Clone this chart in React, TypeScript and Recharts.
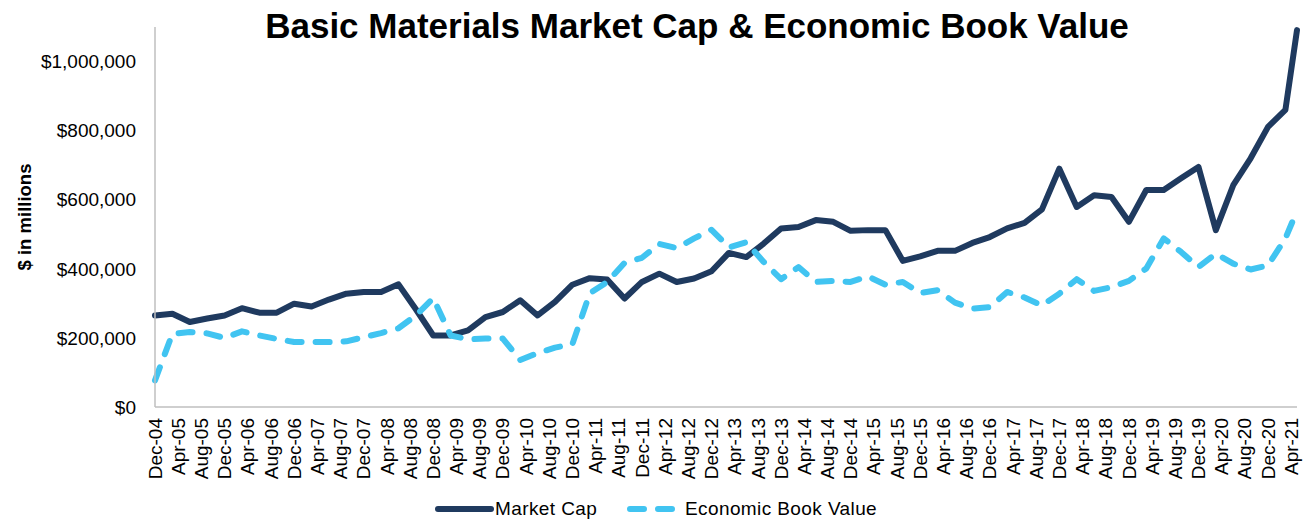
import React from "react";
import { LineChart, Line, XAxis, YAxis } from "recharts";

const FONT = '"Liberation Sans", Arial, sans-serif';
const NAVY = "#1F3A5F";
const SKY = "#41C4F1";

// quarter-end dates of each point (last point is the latest reading)
const pointDates = [
  "Dec-04",
  "Mar-05", "Jun-05", "Sep-05", "Dec-05",
  "Mar-06", "Jun-06", "Sep-06", "Dec-06",
  "Mar-07", "Jun-07", "Sep-07", "Dec-07",
  "Mar-08", "Jun-08", "Sep-08", "Dec-08",
  "Mar-09", "Jun-09", "Sep-09", "Dec-09",
  "Mar-10", "Jun-10", "Sep-10", "Dec-10",
  "Mar-11", "Jun-11", "Sep-11", "Dec-11",
  "Mar-12", "Jun-12", "Sep-12", "Dec-12",
  "Mar-13", "Jun-13", "Sep-13", "Dec-13",
  "Mar-14", "Jun-14", "Sep-14", "Dec-14",
  "Mar-15", "Jun-15", "Sep-15", "Dec-15",
  "Mar-16", "Jun-16", "Sep-16", "Dec-16",
  "Mar-17", "Jun-17", "Sep-17", "Dec-17",
  "Mar-18", "Jun-18", "Sep-18", "Dec-18",
  "Mar-19", "Jun-19", "Sep-19", "Dec-19",
  "Mar-20", "Jun-20", "Sep-20", "Dec-20",
  "Mar-21", "May-21",
];

// $ millions
const marketCap = [
  265000,
  270000, 246000, 256000, 265000,
  286000, 273000, 273000, 299000,
  291000, 311000, 328000, 333000,
  333000, 355000, 283000, 207000,
  207000, 222000, 260000, 275000,
  309000, 265000, 304000, 354000,
  373000, 369000, 314000, 362000,
  386000, 362000, 372000, 393000,
  446000, 434000, 473000, 517000,
  521000, 541000, 536000, 510000,
  512000, 512000, 423000, 436000,
  452000, 452000, 475000, 492000,
  517000, 533000, 572000, 690000,
  579000, 613000, 608000, 536000,
  628000, 628000, 662000, 695000,
  512000, 642000, 720000, 811000,
  860000, 1091000,
];

const economicBookValue = [
  77000,
  212000, 217000, 213000, 200000,
  219000, 207000, 197000, 188000,
  188000, 188000, 190000, 202000,
  214000, 228000, 265000, 315000,
  207000, 196000, 198000, 198000,
  136000, 156000, 172000, 182000,
  329000, 362000, 417000, 432000,
  472000, 460000, 488000, 513000,
  462000, 477000, 420000, 370000,
  405000, 362000, 365000, 362000,
  378000, 354000, 362000, 330000,
  338000, 302000, 285000, 289000,
  333000, 317000, 294000, 328000,
  370000, 336000, 347000, 365000,
  401000, 488000, 449000, 405000,
  444000, 415000, 398000, 410000,
  488000, 568000,
];

const tickLabels = [
  "Dec-04", "Apr-05", "Aug-05", "Dec-05", "Apr-06", "Aug-06", "Dec-06",
  "Apr-07", "Aug-07", "Dec-07", "Apr-08", "Aug-08", "Dec-08", "Apr-09",
  "Aug-09", "Dec-09", "Apr-10", "Aug-10", "Dec-10", "Apr-11", "Aug-11",
  "Dec-11", "Apr-12", "Aug-12", "Dec-12", "Apr-13", "Aug-13", "Dec-13",
  "Apr-14", "Aug-14", "Dec-14", "Apr-15", "Aug-15", "Dec-15", "Apr-16",
  "Aug-16", "Dec-16", "Apr-17", "Aug-17", "Dec-17", "Apr-18", "Aug-18",
  "Dec-18", "Apr-19", "Aug-19", "Dec-19", "Apr-20", "Aug-20", "Dec-20",
  "Apr-21",
];

const yTicks = [0, 200000, 400000, 600000, 800000, 1000000];

const MONTHS = ["Jan", "Feb", "Mar", "Apr", "May", "Jun", "Jul", "Aug", "Sep", "Oct", "Nov", "Dec"];

// months since Dec-04
function monthIndex(label: string) {
  const [mon, yy] = label.split("-");
  return (2000 + Number(yy) - 2004) * 12 + MONTHS.indexOf(mon) - 11;
}

const tickMonths = tickLabels.map(monthIndex);
const labelByMonth: Record<number, string> = {};
tickLabels.forEach((l) => (labelByMonth[monthIndex(l)] = l));

const XTick = ({ x, y, payload }: any) => (
  <text
    x={x}
    y={y}
    dy="0.35em"
    transform={`rotate(-90 ${x} ${y})`}
    textAnchor="end"
    fontSize={19}
    fontFamily={FONT}
    fill="#000"
  >
    {labelByMonth[payload.value]}
  </text>
);

export default function App() {
  const data = pointDates.map((d, i) => ({
    m: monthIndex(d),
    marketCap: marketCap[i],
    ebv: economicBookValue[i],
  }));

  return (
    <div
      style={{
        position: "absolute",
        left: 0,
        top: 0,
        width: 1306,
        height: 520,
        background: "#fff",
        fontFamily: FONT,
      }}
    >
      <div
        style={{
          position: "absolute",
          left: 697,
          top: 8,
          transform: "translateX(-50%)",
          whiteSpace: "nowrap",
          fontSize: 35,
          lineHeight: "35px",
          fontWeight: 700,
          color: "#000",
        }}
      >
        Basic Materials Market Cap &amp; Economic Book Value
      </div>

      <LineChart
        width={1306}
        height={520}
        data={data}
        margin={{ top: 27, right: 9, left: 0, bottom: 0 }}
      >
        <XAxis
          type="number"
          dataKey="m"
          domain={[0, 197]}
          ticks={tickMonths}
          interval={0}
          height={113}
          tickLine={false}
          tickSize={0}
          tickMargin={11}
          tick={<XTick />}
          axisLine={{ stroke: "#BFBFBF", strokeWidth: 1.5 }}
        />
        <YAxis
          domain={[0, 1100000]}
          ticks={yTicks}
          width={155}
          tickLine={false}
          tickSize={0}
          tickMargin={19}
          axisLine={{ stroke: "#BFBFBF", strokeWidth: 1.5 }}
          tick={{ fontSize: 19, fill: "#000", fontFamily: FONT }}
          tickFormatter={(v: number) => `$${v.toLocaleString("en-US")}`}
          label={{
            value: "$ in millions",
            angle: -90,
            position: "insideLeft",
            offset: 24,
            style: {
              textAnchor: "middle",
              fontSize: 18.5,
              fontWeight: 700,
              fill: "#000",
              fontFamily: FONT,
            },
          }}
        />
        <Line
          type="linear"
          dataKey="marketCap"
          name="Market Cap"
          stroke={NAVY}
          strokeWidth={6}
          strokeLinejoin="round"
          strokeLinecap="round"
          dot={false}
          isAnimationActive={false}
        />
        <Line
          type="linear"
          dataKey="ebv"
          name="Economic Book Value"
          stroke={SKY}
          strokeWidth={6}
          strokeDasharray="14 14"
          strokeLinejoin="round"
          strokeLinecap="round"
          dot={false}
          isAnimationActive={false}
        />
      </LineChart>

      <div
        style={{
          position: "absolute",
          left: 0,
          top: 498,
          height: 22,
          width: 1306,
          fontSize: 19,
          letterSpacing: 0.4,
          color: "#000",
        }}
      >
        <svg style={{ position: "absolute", left: 434, top: 0 }} width={62} height={22}>
          <line x1={4} y1={11} x2={57} y2={11} stroke={NAVY} strokeWidth={6} strokeLinecap="round" />
        </svg>
        <span style={{ position: "absolute", left: 495, top: 0, lineHeight: "22px" }}>Market Cap</span>
        <svg style={{ position: "absolute", left: 624, top: 0 }} width={56} height={22}>
          <line
            x1={6}
            y1={11}
            x2={50}
            y2={11}
            stroke={SKY}
            strokeWidth={6}
            strokeDasharray="14 14"
            strokeLinecap="round"
          />
        </svg>
        <span style={{ position: "absolute", left: 685, top: 0, lineHeight: "22px" }}>
          Economic Book Value
        </span>
      </div>
    </div>
  );
}
